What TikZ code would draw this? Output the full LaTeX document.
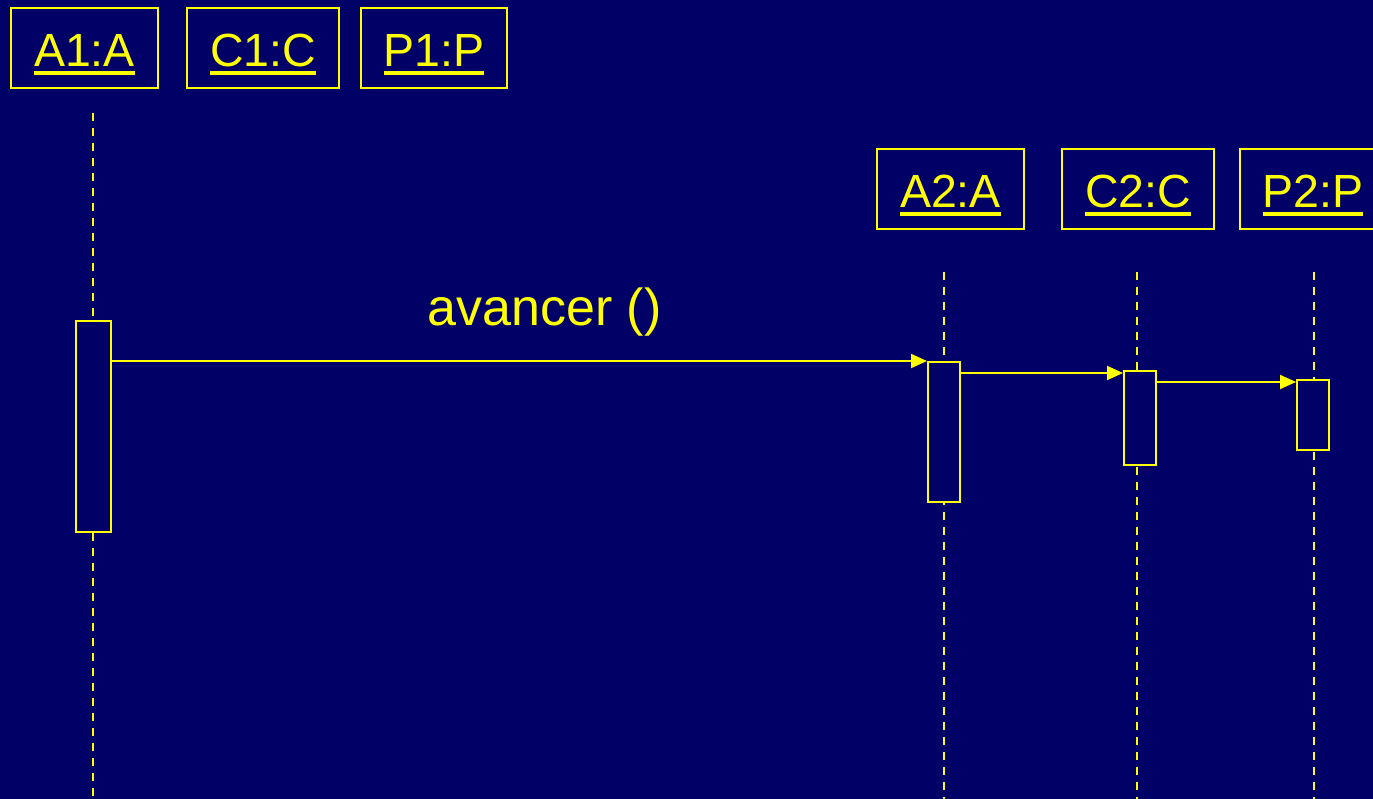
\documentclass[tikz,border=0pt]{standalone}
\usepackage{fontspec}
\setmainfont{Liberation Sans}
\usetikzlibrary{arrows.meta}
\definecolor{umlnavy}{RGB}{0,0,102}
\definecolor{umlyellow}{RGB}{255,255,0}
\newcommand{\objname}[1]{\setbox0\hbox{#1}\rlap{\usebox0}\rule[-8pt]{\wd0}{4pt}}
\tikzset{
  objbox/.style={draw=umlyellow,line width=2pt,text=umlyellow,minimum height=80pt,
    inner sep=0pt,text height=46pt,text depth=8pt,font=\fontsize{46.5}{56}\selectfont},
  lifeline/.style={umlyellow,line width=2pt,dash pattern=on 8pt off 7pt},
  actbox/.style={draw=umlyellow,fill=umlnavy,line width=2pt,inner sep=0pt,anchor=north west},
  msg/.style={umlyellow,line width=2pt,-{Triangle[length=16pt,width=14pt]}},
}
\begin{document}
\begin{tikzpicture}[x=1pt,y=-1pt]
  \fill[umlnavy] (0,0) rectangle (1373,799);
  \useasboundingbox (0,0) rectangle (1373,799);
  % objects
  \node[objbox,minimum width=147pt] (a1) at (84.5,48) {\objname{A1:A}};
  \node[objbox,minimum width=152pt] (c1) at (263,48) {\objname{C1:C}};
  \node[objbox,minimum width=146pt] (p1) at (434,48) {\objname{P1:P}};
  \node[objbox,minimum width=147pt] (a2) at (950.5,189) {\objname{A2:A}};
  \node[objbox,minimum width=152pt] (c2) at (1138,189) {\objname{C2:C}};
  \node[objbox,minimum width=146pt] (p2) at (1313,189) {\objname{P2:P}};
  % lifelines
  \coordinate (a1top) at (93,113);  \coordinate (a1bot) at (93,799);
  \coordinate (a2top) at (944,272); \coordinate (a2bot) at (944,799);
  \coordinate (c2top) at (1137,272); \coordinate (c2bot) at (1137,799);
  \coordinate (p2top) at (1314,272); \coordinate (p2bot) at (1314,799);
  \draw[lifeline] (a1top) -- (a1bot);
  \draw[lifeline] (a2top) -- (a2bot);
  \draw[lifeline] (c2top) -- (c2bot);
  \draw[lifeline] (p2top) -- (p2bot);
  % activations
  \node[actbox,minimum width=35pt,minimum height=211pt] (act1) at (75,320) {};
  \node[actbox,minimum width=32pt,minimum height=140pt] (act2) at (927,361) {};
  \node[actbox,minimum width=32pt,minimum height=94pt] (act3) at (1123,370) {};
  \node[actbox,minimum width=32pt,minimum height=70pt] (act4) at (1296,379) {};
  % messages
  \draw[msg] (act1.east |- act2.north) -- (act2.north west);
  \draw[msg] (act2.east |- 0,373) -- (act3.west |- 0,373);
  \draw[msg] (act3.east |- 0,382) -- (act4.west |- 0,382);
  \node[text=umlyellow,font=\fontsize{52}{60}\selectfont,anchor=base] (lbl) at (544.5,326) {avancer ()};
\end{tikzpicture}
\end{document}
